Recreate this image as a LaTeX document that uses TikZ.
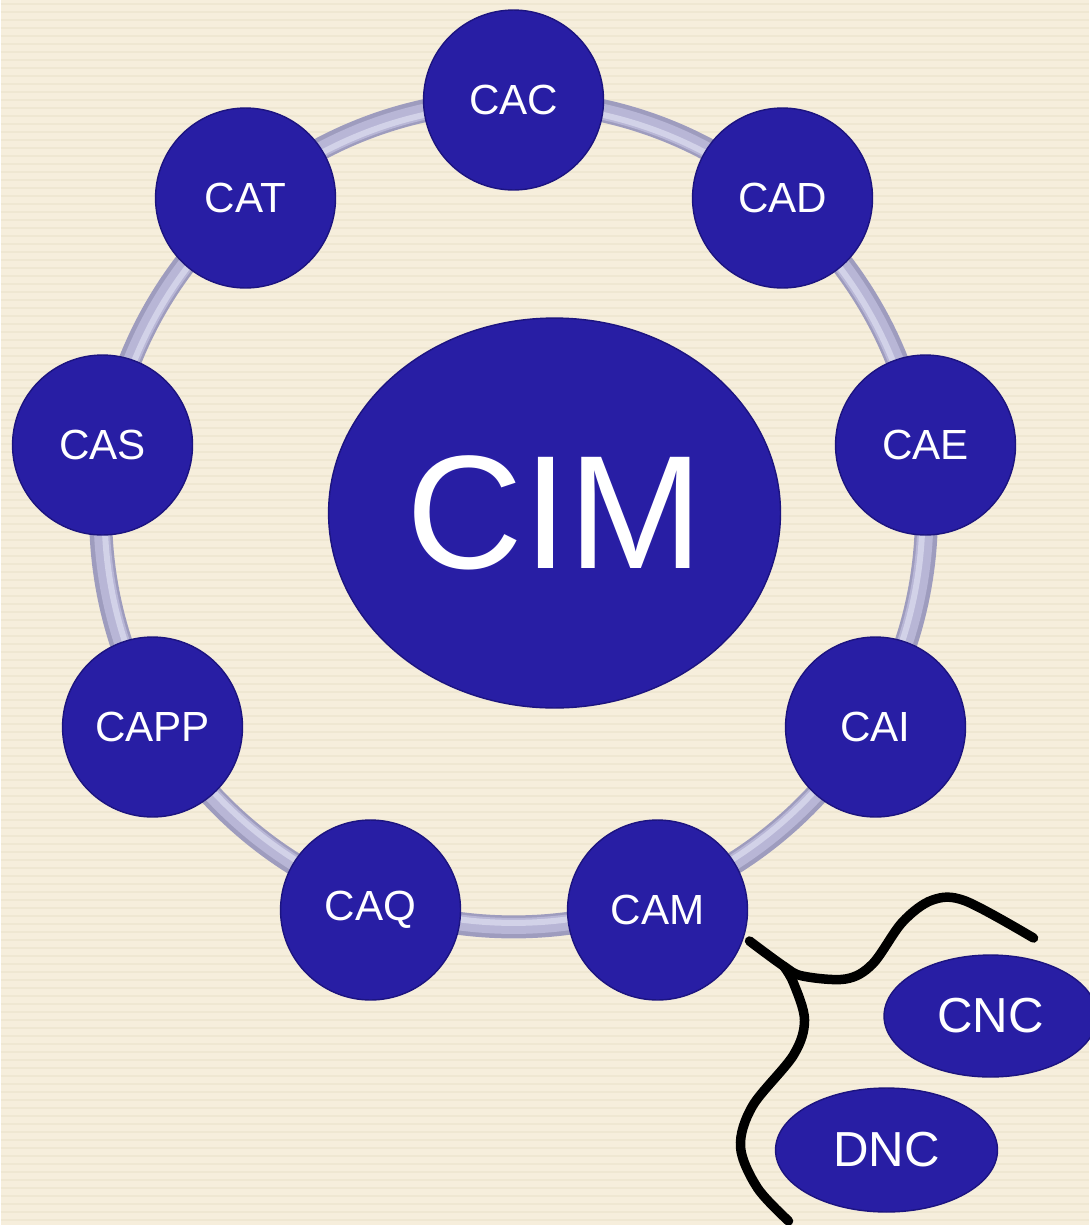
\documentclass[tikz,border=0pt]{standalone}
\usepackage{fontspec}
\setmainfont{Liberation Sans}
\usetikzlibrary{shapes.geometric}
\definecolor{paper}{RGB}{246,238,220}
\definecolor{paperline}{RGB}{239,231,210}
\definecolor{disc}{RGB}{40,30,164}
\definecolor{discedge}{RGB}{28,20,128}
\definecolor{ringgray}{RGB}{158,156,190}
\definecolor{ringmid}{RGB}{184,182,214}
\definecolor{ringlight}{RGB}{210,210,232}
\begin{document}
\begin{tikzpicture}[x=0.02cm,y=-0.02cm,
  unit/.style={circle,fill=disc,draw=discedge,line width=0.8pt,minimum size=3.6cm,
    inner sep=0pt,text=white,font=\fontsize{24}{24}\selectfont},
  oval/.style={ellipse,fill=disc,draw=discedge,line width=0.8pt,inner sep=0pt,
    text=white,font=\fontsize{28}{28}\selectfont},
  brace/.style={black,line width=0.19cm,line cap=round,line join=round}]
% paper background with faint horizontal ruling
\fill[paper] (0,0) rectangle (1088,1225);
\foreach \yy in {4,12,...,1225} \draw[paperline,line width=0.6pt] (0,\yy) -- (1088,\yy);
\useasboundingbox (0,0) rectangle (1088,1225);

% ring behind the units
\coordinate (ringc) at (513,514);
\draw[ringgray,line width=0.46cm] (ringc) circle[radius=8.26cm];
\draw[ringmid,line width=0.32cm] (ringc) circle[radius=8.24cm];
\draw[ringlight,line width=0.12cm] (ringc) circle[radius=8.18cm];

% central ellipse
\node[ellipse,fill=disc,draw=discedge,line width=0.8pt,minimum width=9.04cm,minimum height=7.8cm,
  inner sep=0pt,text=white,font=\fontsize{92}{92}\selectfont] (cim) at (554,513) {CIM};

% units on the ring
\node[unit] (cac) at (513,100) {CAC};
\node[unit] (cat) at (245,198) {CAT};
\node[unit] (cad) at (782,198) {CAD};
\node[unit] (cas) at (102,445) {CAS};
\node[unit] (cae) at (925,445) {CAE};
\node[unit] (capp) at (152,727) {CAPP};
\node[unit] (cai) at (875,727) {CAI};
\node[unit] (caq) at (370,910) {CAQ};
\node[unit] (cam) at (657,910) {CAM};

% CAM sub-units
\node[oval,minimum width=4.26cm,minimum height=2.44cm] (cnc) at (990,1016) {CNC};
\node[oval,minimum width=4.44cm,minimum height=2.48cm] (dnc) at (886,1150) {DNC};

% brace from CAM towards its sub-units
\coordinate (bstart) at (749,941);
\coordinate (bjoin) at (783,966);
\coordinate (bup) at (1033,938);
\coordinate (bdown) at (788,1221);
\draw[brace] plot[smooth,tension=0.55] coordinates
  {(bstart) (bjoin) (802,976) (845,979) (872,964) (902,922) (932,900) (965,901) (bup)};
\draw[brace] plot[smooth,tension=0.55] coordinates
  {(bjoin) (793,983) (804,1020) (793,1055) (752,1106) (740,1147) (757,1188) (bdown)};
\end{tikzpicture}
\end{document}
